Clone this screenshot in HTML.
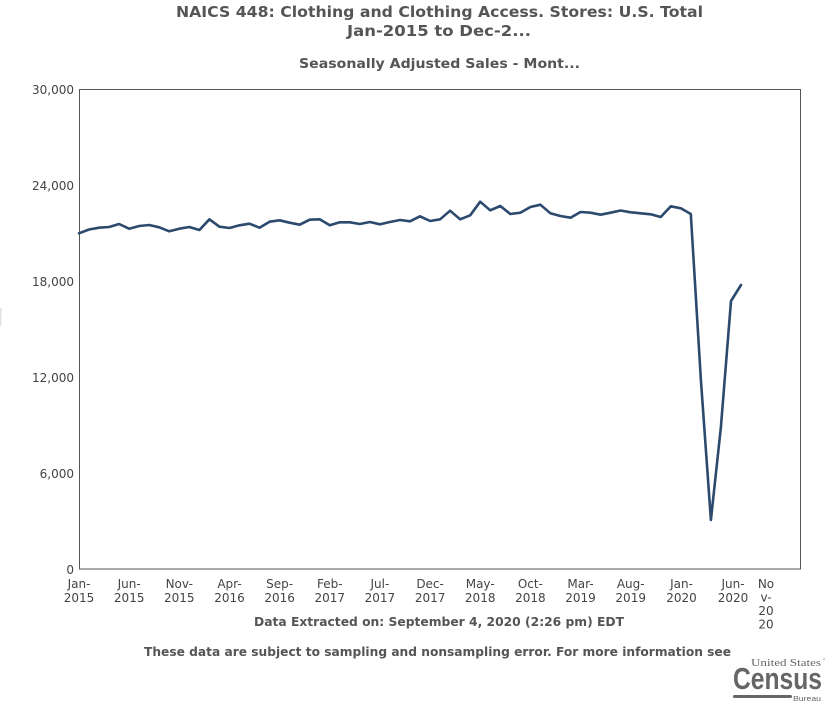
<!DOCTYPE html>
<html>
<head>
<meta charset="utf-8">
<style>
  html,body{margin:0;padding:0;background:#fff;}
  svg{display:block;}
</style>
</head>
<body>
<svg width="835" height="703" viewBox="0 0 835 703" xmlns="http://www.w3.org/2000/svg">
  <rect x="0" y="0" width="835" height="703" fill="#fff"/>
  <!-- Titles -->
  <g font-family="'DejaVu Sans','Liberation Sans',sans-serif" font-weight="bold" fill="#555">
    <text x="176" y="17" font-size="15" textLength="527" lengthAdjust="spacingAndGlyphs">NAICS 448: Clothing and Clothing Access. Stores: U.S. Total</text>
    <text x="347" y="36" font-size="15" textLength="184" lengthAdjust="spacingAndGlyphs">Jan-2015 to Dec-2...</text>
    <text x="299" y="68" font-size="13.5" textLength="281" lengthAdjust="spacingAndGlyphs">Seasonally Adjusted Sales - Mont...</text>
  </g>

  <!-- faint clipped axis title mark at left edge -->
  <rect x="0" y="308" width="1.5" height="18" fill="#e2e2e2"/>

  <!-- Plot frame -->
  <rect x="79.5" y="89.5" width="721" height="479.5" fill="none" stroke="#555" stroke-width="1"/>

  <!-- Y tick labels -->
  <g font-family="'DejaVu Sans','Liberation Sans',sans-serif" font-size="12" fill="#444" text-anchor="end">
    <text x="74" y="94">30,000</text>
    <text x="74" y="190">24,000</text>
    <text x="74" y="286">18,000</text>
    <text x="74" y="382">12,000</text>
    <text x="74" y="478">6,000</text>
    <text x="74" y="574">0</text>
  </g>

  <!-- X tick labels -->
  <g font-family="'DejaVu Sans','Liberation Sans',sans-serif" font-size="12" fill="#444" text-anchor="middle">
    <text x="79" y="588">Jan-</text><text x="79" y="602">2015</text>
    <text x="129.2" y="588">Jun-</text><text x="129.2" y="602">2015</text>
    <text x="179.3" y="588">Nov-</text><text x="179.3" y="602">2015</text>
    <text x="229.5" y="588">Apr-</text><text x="229.5" y="602">2016</text>
    <text x="279.6" y="588">Sep-</text><text x="279.6" y="602">2016</text>
    <text x="329.8" y="588">Feb-</text><text x="329.8" y="602">2017</text>
    <text x="379.9" y="588">Jul-</text><text x="379.9" y="602">2017</text>
    <text x="430.1" y="588">Dec-</text><text x="430.1" y="602">2017</text>
    <text x="480.2" y="588">May-</text><text x="480.2" y="602">2018</text>
    <text x="530.4" y="588">Oct-</text><text x="530.4" y="602">2018</text>
    <text x="580.5" y="588">Mar-</text><text x="580.5" y="602">2019</text>
    <text x="630.7" y="588">Aug-</text><text x="630.7" y="602">2019</text>
    <text x="681.5" y="588">Jan-</text><text x="681.5" y="602">2020</text>
    <text x="733" y="588">Jun-</text><text x="733" y="602">2020</text>
    <text x="766" y="588">No</text><text x="766" y="601.5">v-</text><text x="766" y="615">20</text><text x="766" y="628.5">20</text>
  </g>

  <!-- Series -->
  <polyline fill="none" stroke="#2c4a6e" stroke-width="2.6" stroke-linejoin="round" stroke-linecap="round"
    points="79.0,233.3 89.0,229.5 99.1,227.7 109.1,227 119.1,224 129.2,228.7 139.2,226 149.2,225 159.2,227.3 169.3,231.3 179.3,228.7 189.3,227 199.4,230 209.4,219.3 219.4,226.7 229.5,228 239.5,225.3 249.5,223.7 259.5,227.7 269.6,221.7 279.6,220.3 289.6,222.7 299.7,224.7 309.7,219.7 319.7,219.3 329.8,225.3 339.8,222.3 349.8,222.3 359.8,224 369.9,222 379.9,224.3 389.9,222 400.0,220 410.0,221.3 420.0,216.3 430.1,221 440.1,219.3 450.1,210.7 460.1,219.3 470.2,215.3 480.2,201.7 490.2,210.3 500.3,206 510.3,214 520.3,212.7 530.4,207 540.4,204.7 550.4,213.3 560.4,216 570.5,217.7 580.5,212 590.5,212.7 600.6,214.7 610.6,212.7 620.6,210.5 630.7,212.3 640.7,213.3 650.7,214.3 660.7,217 670.8,206.3 680.8,208.3 690.8,214 700.9,380 710.9,520 720.9,427 731.0,301 741.0,285"/>

  <!-- Footer -->
  <g font-family="'DejaVu Sans','Liberation Sans',sans-serif" font-weight="bold" font-size="12" fill="#555">
    <text x="254" y="626" textLength="370" lengthAdjust="spacingAndGlyphs">Data Extracted on: September 4, 2020 (2:26 pm) EDT</text>
    <text x="144" y="656" textLength="587" lengthAdjust="spacingAndGlyphs">These data are subject to sampling and nonsampling error. For more information see</text>
  </g>

  <!-- Census logo -->
  <g fill="#666">
    <text x="751" y="666" font-family="'Liberation Serif',serif" font-size="11" textLength="70" lengthAdjust="spacingAndGlyphs">United States</text>
    <circle cx="824" cy="659" r="0.8" fill="#999"/>
    <text x="733" y="689" font-family="'Liberation Sans',sans-serif" font-weight="bold" font-size="31" textLength="89" lengthAdjust="spacingAndGlyphs">Census</text>
    <rect x="733" y="695" width="59" height="3" rx="1.5"/>
    <text x="793" y="701" font-family="'Liberation Sans',sans-serif" font-size="7" textLength="28" lengthAdjust="spacingAndGlyphs">Bureau</text>
  </g>
</svg>
</body>
</html>
